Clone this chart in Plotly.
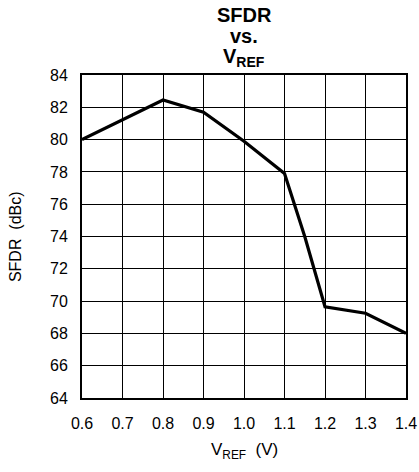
import plotly.graph_objects as go

vref = [0.6, 0.7, 0.8, 0.9, 1.0, 1.1, 1.15, 1.2, 1.3, 1.4]
sfdr = [80.0, 81.2, 82.45, 81.7, 79.9, 77.9, 74.0, 69.65, 69.25, 68.0]
x_ticks = [0.6, 0.7, 0.8, 0.9, 1.0, 1.1, 1.2, 1.3, 1.4]
x_tick_text = ["0.6", "0.7", "0.8", "0.9", "1.0", "1.1", "1.2", "1.3", "1.4"]
y_ticks = [64, 66, 68, 70, 72, 74, 76, 78, 80, 82, 84]

fig = go.Figure()
fig.add_trace(go.Scatter(x=vref, y=sfdr, mode="lines",
                         line=dict(color="black", width=3.2), showlegend=False))

tick_font = dict(family="Liberation Sans", size=16, color="black")
axis_common = dict(showgrid=True, gridcolor="black", gridwidth=1.4,
                   showline=True, linecolor="black", linewidth=2, mirror=True,
                   ticks="", zeroline=False, automargin=False,
                   tickfont=tick_font)

fig.update_xaxes(range=[0.6, 1.4], tickvals=x_ticks, ticktext=x_tick_text,
                 ticklabelstandoff=10, **axis_common)
fig.update_yaxes(range=[64, 84], tickvals=y_ticks,
                 ticklabelstandoff=9, **axis_common)

title_font = dict(family="Liberation Sans", size=20, color="black")
annots = [
    dict(text="<b>SFDR</b>", x=0.5, y=1.186, font=title_font),
    dict(text="<b>vs.</b>", x=0.5, y=1.12, font=title_font),
    dict(text="<b>V<sub>REF</sub></b>", x=0.5, y=1.055, font=title_font),
    dict(text="V<sub>REF</sub>  (V)", x=0.5, y=-0.165,
         font=dict(family="Liberation Sans", size=17, color="black")),
    dict(text="SFDR  (dBc)", x=-0.205, y=0.5, textangle=-90,
         font=dict(family="Liberation Sans", size=16, color="black")),
]
for a in annots:
    a.update(xref="paper", yref="paper", showarrow=False,
             xanchor="center", yanchor="middle")

fig.update_layout(
    width=419, height=472,
    margin=dict(l=82, r=13, t=75, b=74),
    plot_bgcolor="white", paper_bgcolor="white",
    annotations=annots,
)

fig.write_html("out.html",
               config={"displayModeBar": False},
               post_script="document.body.style.margin='0';")
